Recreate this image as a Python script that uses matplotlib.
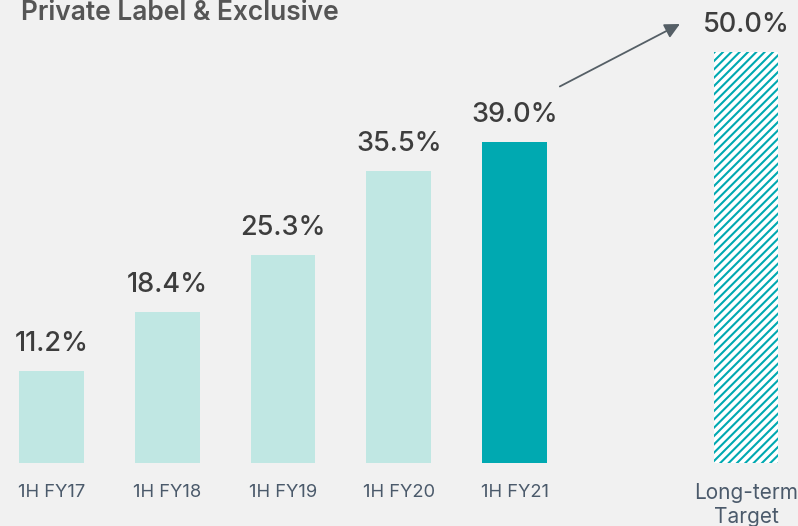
import matplotlib
matplotlib.use('Agg')
import matplotlib.pyplot as plt

plt.rcParams['font.family'] = ['Inter', 'DejaVu Sans']
plt.rcParams['hatch.linewidth'] = 1.5

periods = ['1H FY17', '1H FY18', '1H FY19', '1H FY20', '1H FY21']
shares = [11.2, 18.4, 25.3, 35.5, 39.0]
target_label = 'Long-term\nTarget'
target_value = 50.0

light = '#c0e7e3'
teal = '#00a9b1'
bg = '#f1f1f1'
label_col = '#3d3d3d'
tick_col = '#4b5a6b'

fig = plt.figure(figsize=(7.98, 5.26), dpi=100, facecolor=bg)
ax = fig.add_axes([0, 0, 1, 1])
ax.set_facecolor(bg)

xs = list(range(len(periods)))
cols = [light] * (len(periods) - 1) + [teal]
ax.bar(xs, shares, width=0.56, color=cols)
tx = len(periods) + 1
ax.bar([tx], [target_value], width=0.56, facecolor='white', edgecolor=teal, hatch='////', linewidth=0)

for x, v in zip(xs + [tx], shares + [target_value]):
    ax.text(x, v + 2.4, f'{v:.1f}%', ha='center', va='baseline', fontsize=19.5, fontweight='medium', color=label_col)

for x, lab in zip(xs, periods):
    ax.text(x, -4.13, lab, ha='center', va='baseline', fontsize=13.2, color=tick_col)
# multiline baseline sits on the last line ("Target")
ax.text(tx, -7.29, target_label, ha='center', va='baseline', fontsize=15, color=tick_col, linespacing=1.25)

ax.annotate('', xy=(5.45, 53.5), xytext=(4.37, 45.6),
            arrowprops=dict(arrowstyle='-|>,head_length=0.9,head_width=0.45', color='#555f66', lw=1.3))

ax.text(-0.263, 53.83, 'Private Label & Exclusive', ha='left', va='baseline', fontsize=19, fontweight='semibold', color='#555555')

ax.set_xlim(-0.445, 6.449)
ax.set_ylim(-7.65, 56.26)
ax.axis('off')

fig.savefig('out.png', dpi=100, facecolor=bg)
